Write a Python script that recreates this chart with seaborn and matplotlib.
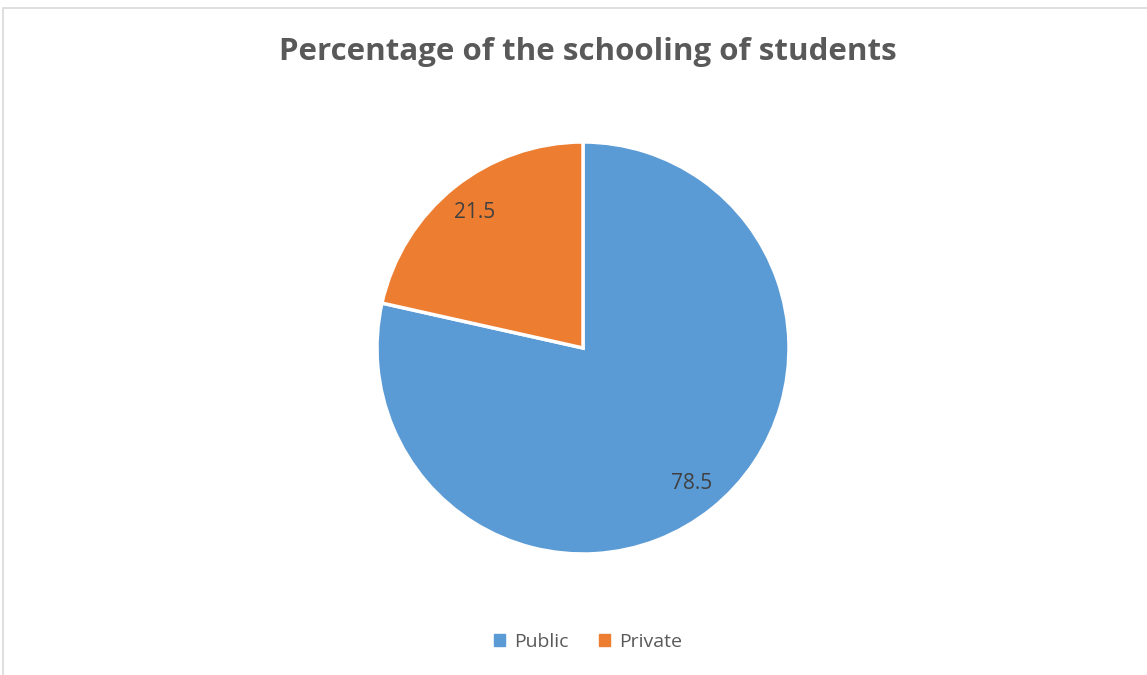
import matplotlib
matplotlib.use("Agg")
import matplotlib.pyplot as plt
from matplotlib.patches import Rectangle
import seaborn as sns

categories = ["Public", "Private"]
values = [78.5, 21.5]
colors = ["#5B9BD5", "#ED7D31"]
title = "Percentage of the schooling of students"

sns.set_theme(style="white")
plt.rcParams["font.family"] = ["Open Sans", "DejaVu Sans"]

W, H = 1147, 675
fig = plt.figure(figsize=(W / 100, H / 100), dpi=100)
fig.patch.set_facecolor("white")

# chart border (top and left edges visible)
fig.patches.append(Rectangle((3 / W, -0.2), 1.5, 1.2 - 8 / H + 0.0,
                             transform=fig.transFigure, fill=False,
                             edgecolor="#D9D9D9", linewidth=1.2))

cx, cy, r = 583, 348, 206
ax = fig.add_axes([(cx - r) / W, (H - cy - r) / H, 2 * r / W, 2 * r / H])
palette = sns.color_palette(colors)
wedges, texts, autotexts = ax.pie(
    values, colors=palette, startangle=90, counterclock=False,
    autopct=lambda p: f"{p:.1f}", pctdistance=0.84,
    wedgeprops=dict(edgecolor="white", linewidth=2.5),
    textprops=dict(color="#404040", fontsize=15))
ax.set_xlim(-1, 1)
ax.set_ylim(-1, 1)
ax.set_aspect("equal")
ax.axis("off")

fig.text(588 / W, 1 - 52 / H, title, ha="center", va="center",
         fontsize=22.5, fontweight="bold", color="#595959")

handles = [plt.Rectangle((0, 0), 1, 1, color=c) for c in palette]
fig.legend(handles, categories, loc="center", bbox_to_anchor=(588 / W, 1 - 642 / H),
           ncol=2, frameon=False, fontsize=14, handlelength=0.55, handleheight=0.55,
           handletextpad=0.45, columnspacing=1.6, labelcolor="#595959")

fig.savefig("out.png", dpi=100)
